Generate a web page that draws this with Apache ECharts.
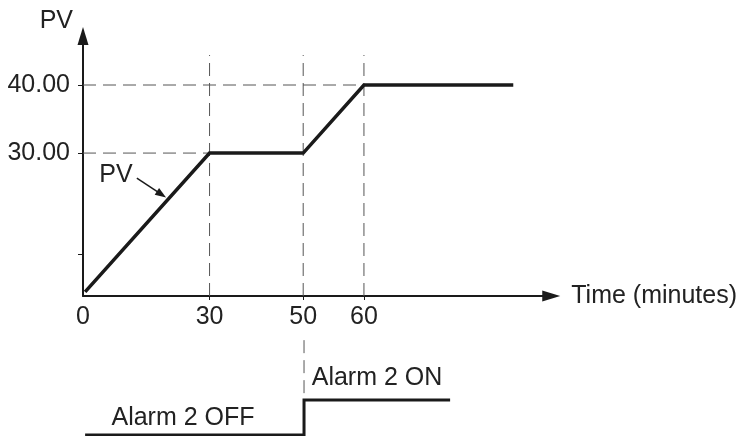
<!DOCTYPE html>
<html>
<head>
<meta charset="utf-8">
<script src="https://cdn.jsdelivr.net/npm/echarts@6.0.0/dist/echarts.min.js"></script>
<style>
  html, body { margin: 0; padding: 0; background: #fff; }
  #chart { width: 740px; height: 436px; }
</style>
</head>
<body>
<div id="chart"></div>
<script>
// the drawing is not to scale, so positions along the time axis are read off the picture
const timeTicks = [0, 30, 52.2, 66.6]
const timeTickLabels = ['0', '30', '50', '60']
const pvTicks = [15.15, 30, 40]
const pvLabelTicks = [30, 40]

// PV profile
const pvTime = [0.5, 30, 52.2, 66.6, 102]
const pvValue = [9.6, 30, 30, 40, 40]

// alarm 2 output (0 = OFF, 1 = ON)
const alarmTime = [0.5, 52.2, 52.2, 86.7]
const alarmState = [0, 0, 1, 1]

// dashed guides
const guideLevels = [30, 40]
const guideLevelEnds = [30, 66.6]
const guideTimes = [30, 52.2, 66.6]
const guideTop = 44.4

const FONT = '"Liberation Sans", Arial, Helvetica, sans-serif'
const INK = '#1a1a1a'
const DASH = '#555'

let chart = echarts.init(document.getElementById('chart'))

let dashStyle = {
  color: DASH,
  width: 1,
  type: [13, 7],
}

let guideSeries = []
guideLevels.forEach((lv, i) => {
  guideSeries.push({
    type: 'line',
    xAxisIndex: 0,
    yAxisIndex: 0,
    data: [[0, lv], [guideLevelEnds[i], lv]],
    showSymbol: false,
    symbol: 'none',
    lineStyle: dashStyle,
    silent: true,
    z: 1,
  })
})
guideTimes.forEach((t) => {
  guideSeries.push({
    type: 'line',
    xAxisIndex: 0,
    yAxisIndex: 0,
    data: [[t, 9], [t, guideTop]],
    symbol: 'none',
    lineStyle: dashStyle,
    silent: true,
    z: 1,
  })
})

let option = {
  animation: false,
  backgroundColor: '#fff',
  textStyle: { fontFamily: FONT },
  grid: [
    { left: 83, top: 36, width: 470, height: 260 },
    { left: 83, top: 330, width: 470, height: 105 },
  ],
  xAxis: [
    {
      type: 'value',
      gridIndex: 0,
      min: 0,
      max: 111,
      name: 'Time (minutes)',
      nameLocation: 'end',
      nameGap: 20,
      nameTextStyle: {
        fontFamily: FONT,
        fontSize: 25,
        color: '#222',
        align: 'left',
        verticalAlign: 'middle',
      },
      axisLine: {
        show: true,
        symbol: ['none', 'triangle'],
        symbolSize: [11, 18],
        lineStyle: { color: INK, width: 2 },
      },
      axisTick: {
        show: true,
        length: 4,
        customValues: timeTicks.slice(1),
        lineStyle: { color: INK, width: 1 },
      },
      axisLabel: {
        customValues: timeTicks,
        margin: 9,
        fontFamily: FONT,
        fontSize: 25,
        color: '#222',
        formatter: (v) => {
          let i = timeTicks.indexOf(v)
          return i >= 0 ? timeTickLabels[i] : ''
        },
      },
      splitLine: { show: false },
    },
    {
      type: 'value',
      gridIndex: 1,
      min: 0,
      max: 111,
      show: false,
    },
  ],
  yAxis: [
    {
      type: 'value',
      gridIndex: 0,
      min: 9,
      max: 47.2,
      name: 'PV',
      nameLocation: 'end',
      nameGap: 15,
      nameTextStyle: {
        fontFamily: FONT,
        fontSize: 25,
        color: '#222',
        align: 'right',
        verticalAlign: 'middle',
        padding: [0, 10, 0, 0],
      },
      axisLine: {
        show: true,
        symbol: ['none', 'triangle'],
        symbolSize: [11, 18],
        lineStyle: { color: INK, width: 2 },
      },
      axisTick: {
        show: true,
        length: 5,
        customValues: pvTicks,
        lineStyle: { color: INK, width: 1 },
      },
      axisLabel: {
        customValues: pvLabelTicks,
        margin: 13,
        fontFamily: FONT,
        fontSize: 25,
        color: '#222',
        formatter: (v) => v.toFixed(2),
      },
      splitLine: { show: false },
    },
    {
      type: 'value',
      gridIndex: 1,
      min: 0,
      max: 3,
      show: false,
    },
  ],
  series: [
    ...guideSeries,
    {
      type: 'line',
      xAxisIndex: 1,
      yAxisIndex: 1,
      data: [[52.2, 2.71], [52.2, 1]],
      symbol: 'none',
      lineStyle: dashStyle,
      silent: true,
      z: 1,
    },
    {
      name: 'PV',
      type: 'line',
      xAxisIndex: 0,
      yAxisIndex: 0,
      data: pvTime.map((t, i) => [t, pvValue[i]]),
      symbol: 'none',
      lineStyle: { color: INK, width: 3.5, join: 'miter' },
      z: 3,
      markLine: {
        silent: true,
        symbol: ['none', 'triangle'],
        symbolSize: [8, 11],
        lineStyle: { color: INK, width: 1.5, type: 'solid' },
        label: {
          show: true,
          position: 'start',
          formatter: 'PV',
          fontFamily: FONT,
          fontSize: 25,
          color: '#222',
        },
        data: [
          [
            { coord: [12.76, 26.32] },
            { coord: [18.6, 23.93] },
          ],
        ],
      },
    },
    {
      name: 'Alarm 2',
      type: 'line',
      xAxisIndex: 1,
      yAxisIndex: 1,
      data: alarmTime.map((t, i) => [t, alarmState[i]]),
      symbol: 'none',
      clip: false,
      lineStyle: { color: INK, width: 3, join: 'miter' },
      z: 3,
    },
  ],
  graphic: [
    {
      type: 'text',
      x: 183,
      y: 418,
      style: {
        text: 'Alarm 2 OFF',
        font: '25px ' + FONT,
        fill: '#222',
        align: 'center',
        verticalAlign: 'middle',
      },
    },
    {
      type: 'text',
      x: 377,
      y: 378,
      style: {
        text: 'Alarm 2 ON',
        font: '25px ' + FONT,
        fill: '#222',
        align: 'center',
        verticalAlign: 'middle',
      },
    },
  ],
}

chart.setOption(option)
</script>
</body>
</html>
